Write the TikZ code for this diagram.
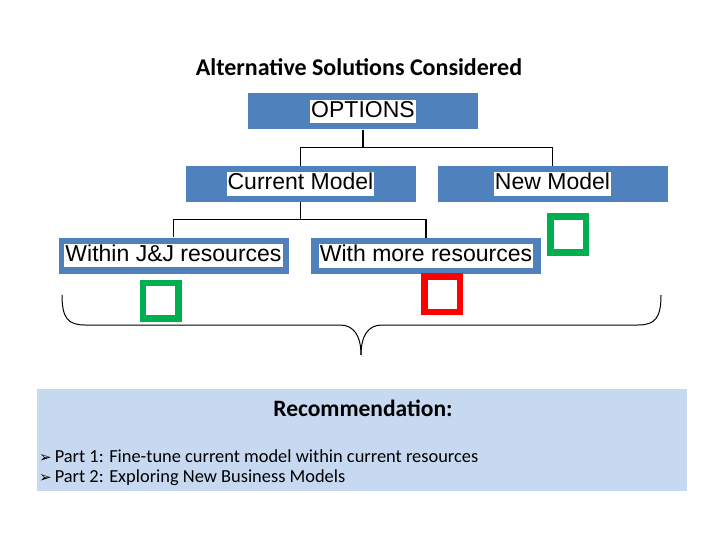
\documentclass[tikz,border=0pt]{standalone}
\usepackage{fontspec}
\setmainfont{Carlito}
\newfontfamily\boxfont{Liberation Sans}
\newfontfamily\symfont{DejaVu Sans}

\definecolor{optblue}{RGB}{79,129,189}
\definecolor{recblue}{RGB}{198,217,241}
\definecolor{okgreen}{RGB}{0,176,80}
\definecolor{nored}{RGB}{255,0,0}

\newcommand{\boxtext}[1]{{\setlength{\fboxsep}{1pt}\colorbox{white}{\vphantom{Cg}#1}}}
\newcommand{\bul}{{\symfont\fontsize{15}{15}\selectfont ➢}\hspace{3pt}}

\tikzset{
    optbox/.style={fill=optblue, minimum width=230pt, minimum height=36pt,
        inner sep=0pt, font=\boxfont\fontsize{23}{23}\selectfont},
    tickbox/.style={line width=6.5pt, minimum size=35.5pt, inner sep=0pt},
    link/.style={line width=1.2pt},
    bullet/.style={anchor=base west, inner sep=0pt, font=\fontsize{18.4}{22}\selectfont}
}

\begin{document}
\begin{tikzpicture}[x=1pt, y=-1pt]
    \useasboundingbox (0,0) rectangle (720,540);

    \node[anchor=base, font=\bfseries\fontsize{24}{28}\selectfont] (title) at (359,76) {Alternative Solutions Considered};

    % option tree
    \node[optbox] (opt) at (363,111.5) {\boxtext{OPTIONS}};
    \node[optbox] (cur) at (300.5,184) {\boxtext{Current Model}};
    \node[optbox] (new) at (552.5,184) {\boxtext{New Model}};
    \node[optbox] (jnj) at (173.5,255.5) {\boxtext{Within J\&J resources}};
    \node[optbox] (more) at (426,256) {\boxtext{With more resources}};

    \draw[link] (opt.south) -- ++(0,18) -| (cur.north);
    \draw[link] (opt.south) -- ++(0,18) -| (new.north);
    \draw[link] (cur.south) -- ++(0,17) -| (jnj.north);
    \draw[link] (cur.south) -- ++(0,17) -| (more.north);

    % marks
    \node[tickbox, draw=okgreen] (gsq1) at (160.5,300.5) {};
    \node[tickbox, draw=okgreen] (gsq2) at (568,234.5) {};
    \node[tickbox, draw=nored] (rsq) at (442,294) {};

    % brace
    \draw[line width=1pt] (62,295) .. controls (62,318) and (68,325) .. (85,325) -- (340,325)
        .. controls (354,325) and (361,336) .. (361,355);
    \draw[line width=1pt] (361,355) .. controls (361,336) and (368,325) .. (382,325) -- (638,325)
        .. controls (655,325) and (661,318) .. (661,295);

    % recommendation
    \node[fill=recblue, minimum width=650pt, minimum height=102pt, inner sep=0pt, anchor=north west] (recbox) at (37,389) {};
    \node[anchor=base, font=\bfseries\fontsize{23.5}{28}\selectfont] (rec) at (363,416) {Recommendation:};
    \node[bullet] (part1) at (39,462) {\bul Part 1: Fine-tune current model within current resources};
    \node[bullet] (part2) at (39,482) {\bul Part 2: Exploring New Business Models};
\end{tikzpicture}
\end{document}
